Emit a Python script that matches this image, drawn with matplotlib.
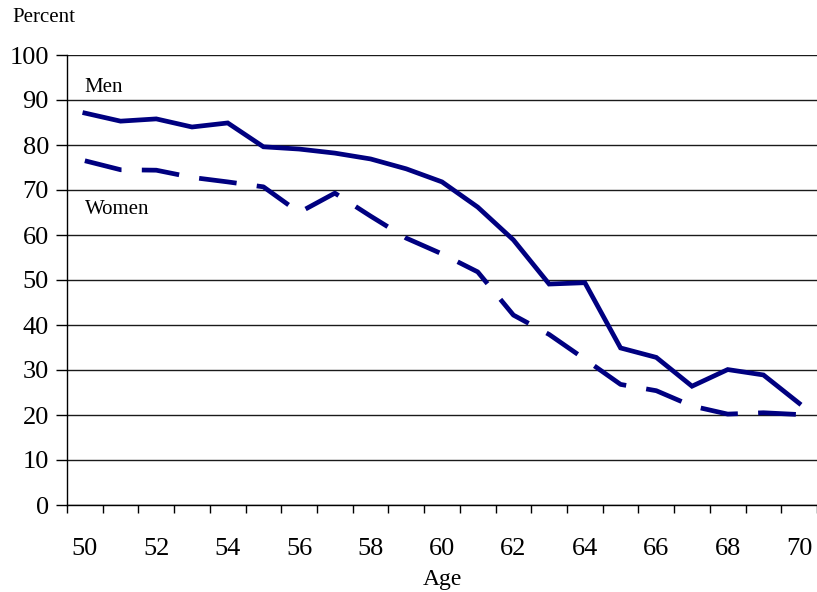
import matplotlib
matplotlib.use("Agg")
import matplotlib.pyplot as plt
from matplotlib.ticker import FixedLocator, NullFormatter

ages = list(range(50, 71))
men = [87.1, 85.3, 85.8, 84.0, 84.9, 79.6, 79.1, 78.2, 76.9, 74.7, 71.8,
       66.2, 58.9, 49.1, 49.4, 34.9, 32.8, 26.4, 30.1, 28.9, 22.6]
women = [76.5, 74.5, 74.4, 72.8, 71.8, 70.7, 65.0, 69.3, 64.2, 59.3, 55.8,
         51.8, 42.2, 37.9, 32.4, 26.8, 25.4, 22.0, 20.2, 20.5, 20.1]
x_labels = [str(a) for a in range(50, 71, 2)]
y_ticks = list(range(0, 101, 10))

navy = "#000080"
serif = ["Liberation Serif", "DejaVu Serif"]
plt.rcParams["font.family"] = serif

fig = plt.figure(figsize=(8.17, 5.92), dpi=100)
ax = fig.add_axes([67/817, 1 - 505/592, 750/817, 450/592])

ax.plot(ages, men, color=navy, lw=3.4, solid_joinstyle="miter", zorder=3)
ax.plot(ages, women, color=navy, lw=3.4, dashes=(8.0, 4.3),
        dash_capstyle="butt", zorder=3)

ax.set_xlim(49.5, 70.5)
ax.set_ylim(0, 100)
ax.set_yticks(y_ticks)
ax.set_yticklabels([str(v) for v in y_ticks], fontsize=19)
ax.yaxis.grid(True, color="#1a1a1a", lw=1.0)
ax.set_axisbelow(True)

ax.set_xticks(list(range(50, 71, 2)))
ax.set_xticklabels(x_labels, fontsize=19)
ax.tick_params(axis="x", which="major", length=0, pad=24)
ax.xaxis.set_minor_locator(FixedLocator([a - 0.5 for a in range(50, 72)]))
ax.xaxis.set_minor_formatter(NullFormatter())
ax.tick_params(axis="x", which="minor", length=6, width=1, color="black")
ax.tick_params(axis="y", length=8, width=1, pad=5, color="black")

for s in ["top", "right"]:
    ax.spines[s].set_visible(False)
for s in ["left", "bottom"]:
    ax.spines[s].set_color("black")
    ax.spines[s].set_linewidth(1)

ax.set_xlabel("Age", fontsize=17, labelpad=6)
fig.text(12/817, 1 - 18/592, "Percent", fontsize=15, va="center", ha="left")
ax.text(50, 92.7, "Men", fontsize=15, ha="left", va="center")
ax.text(50, 65.6, "Women", fontsize=15, ha="left", va="center")

fig.savefig("out.png", dpi=100)
